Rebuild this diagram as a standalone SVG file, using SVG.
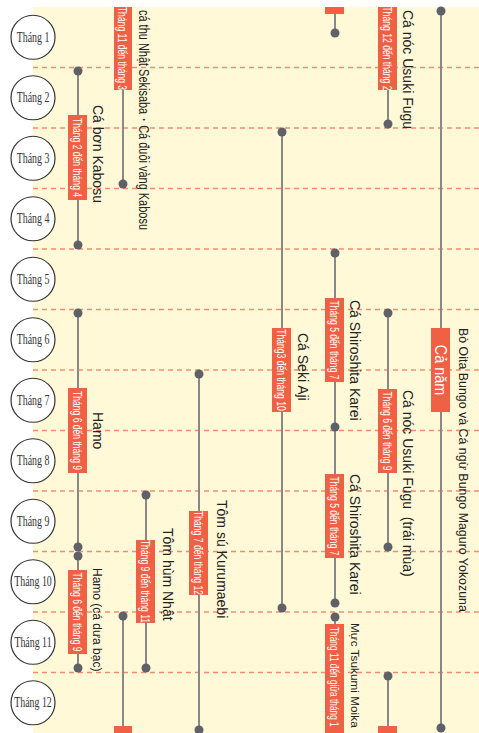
<svg xmlns="http://www.w3.org/2000/svg" width="479" height="733" viewBox="0 0 479 733">
<style>
.bg{fill:#FFF9D7}
.grid{stroke:#F58C72;stroke-width:1.3;stroke-dasharray:5 4;fill:none}
.mc{fill:#fff;stroke:#333;stroke-width:1.2}
.mt{font-family:"Liberation Serif",serif;font-size:15px;fill:#333;text-anchor:middle;dominant-baseline:central}
.ln{stroke:#888;stroke-width:2;fill:none}
.dot{fill:#5f6068}
.box{fill:#EF6044}
.lb{font-family:"Liberation Sans",Arial,sans-serif;font-size:13px;fill:#fff;text-anchor:middle;dominant-baseline:central}
.lbs{font-family:"Liberation Sans",Arial,sans-serif;font-size:13px;fill:#fff;text-anchor:start;dominant-baseline:central}
.nm{font-family:"Liberation Sans",Arial,sans-serif;font-size:14px;fill:#222;text-anchor:start;dominant-baseline:central}
</style>
<rect class="bg" x="33" y="7" width="446" height="726"/>
<g id="grid">
<line class="grid" x1="33" y1="67.5" x2="479" y2="67.5"/>
<line class="grid" x1="33" y1="128" x2="479" y2="128"/>
<line class="grid" x1="33" y1="188.5" x2="479" y2="188.5"/>
<line class="grid" x1="33" y1="249" x2="479" y2="249"/>
<line class="grid" x1="33" y1="309.5" x2="479" y2="309.5"/>
<line class="grid" x1="33" y1="370" x2="479" y2="370"/>
<line class="grid" x1="33" y1="430.5" x2="479" y2="430.5"/>
<line class="grid" x1="33" y1="491" x2="479" y2="491"/>
<line class="grid" x1="33" y1="551.5" x2="479" y2="551.5"/>
<line class="grid" x1="33" y1="612" x2="479" y2="612"/>
<line class="grid" x1="33" y1="672.5" x2="479" y2="672.5"/>
</g>
<g id="months">
<g id="m1"><circle class="mc" cx="33" cy="37.25" r="22"/><text class="mt" transform="translate(33,37.25) scale(0.66,1)">Tháng 1</text></g>
<g id="m2"><circle class="mc" cx="33" cy="97.75" r="22"/><text class="mt" transform="translate(33,97.75) scale(0.66,1)">Tháng 2</text></g>
<g id="m3"><circle class="mc" cx="33" cy="158.25" r="22"/><text class="mt" transform="translate(33,158.25) scale(0.66,1)">Tháng 3</text></g>
<g id="m4"><circle class="mc" cx="33" cy="218.75" r="22"/><text class="mt" transform="translate(33,218.75) scale(0.66,1)">Tháng 4</text></g>
<g id="m5"><circle class="mc" cx="33" cy="279.25" r="22"/><text class="mt" transform="translate(33,279.25) scale(0.66,1)">Tháng 5</text></g>
<g id="m6"><circle class="mc" cx="33" cy="339.75" r="22"/><text class="mt" transform="translate(33,339.75) scale(0.66,1)">Tháng 6</text></g>
<g id="m7"><circle class="mc" cx="33" cy="400.25" r="22"/><text class="mt" transform="translate(33,400.25) scale(0.66,1)">Tháng 7</text></g>
<g id="m8"><circle class="mc" cx="33" cy="460.75" r="22"/><text class="mt" transform="translate(33,460.75) scale(0.66,1)">Tháng 8</text></g>
<g id="m9"><circle class="mc" cx="33" cy="521.25" r="22"/><text class="mt" transform="translate(33,521.25) scale(0.66,1)">Tháng 9</text></g>
<g id="m10"><circle class="mc" cx="33" cy="581.75" r="22"/><text class="mt" transform="translate(33,581.75) scale(0.66,1)">Tháng 10</text></g>
<g id="m11"><circle class="mc" cx="33" cy="642.25" r="22"/><text class="mt" transform="translate(33,642.25) scale(0.66,1)">Tháng 11</text></g>
<g id="m12"><circle class="mc" cx="33" cy="702.75" r="22"/><text class="mt" transform="translate(33,702.75) scale(0.66,1)">Tháng 12</text></g>
</g>
<g id="connectors">
<line class="ln" x1="78" y1="71" x2="78" y2="245"/>
<line class="ln" x1="123" y1="7" x2="123" y2="184"/>
<line class="ln" x1="123" y1="616" x2="123" y2="733"/>
<line class="ln" x1="78" y1="313" x2="78" y2="547"/>
<line class="ln" x1="78" y1="556" x2="78" y2="668"/>
<line class="ln" x1="146" y1="495" x2="146" y2="668"/>
<line class="ln" x1="199" y1="374" x2="199" y2="730"/>
<line class="ln" x1="282" y1="132" x2="282" y2="608"/>
<line class="ln" x1="335" y1="7" x2="335" y2="33"/>
<line class="ln" x1="335" y1="253" x2="335" y2="603"/>
<line class="ln" x1="335" y1="617" x2="335" y2="733"/>
<line class="ln" x1="388" y1="7" x2="388" y2="124"/>
<line class="ln" x1="388" y1="313" x2="388" y2="547"/>
<line class="ln" x1="388" y1="676" x2="388" y2="733"/>
<line class="ln" x1="441" y1="11" x2="441" y2="728"/>
</g>
<g id="kabosu-flounder">
<circle class="dot" cx="78" cy="71" r="4.5"/><circle class="dot" cx="78" cy="245" r="4.5"/>
<rect class="box" x="68" y="115" width="19" height="85"/>
<text class="lb" transform="translate(77.5,157.5) rotate(90) scale(0.66,1)">Tháng 2 đến tháng 4</text>
<text class="nm" transform="translate(98,105) rotate(90)">Cá bơn Kabosu</text>
</g>
<g id="sekisaba">
<circle class="dot" cx="123" cy="184" r="4.5"/><circle class="dot" cx="123" cy="616" r="4.5"/>
<rect class="box" x="114" y="7" width="18" height="83"/>
<rect class="box" x="114" y="726" width="18" height="7"/>
<text class="lb" transform="translate(123,48.5) rotate(90) scale(0.66,1)">Tháng 11 đến tháng 3</text>
<text class="nm" transform="translate(144,10) rotate(90)" textLength="220" lengthAdjust="spacingAndGlyphs">cá thu Nhật Sekisaba・Cá đuôi vàng Kabosu</text>
</g>
<g id="hamo">
<circle class="dot" cx="78" cy="313" r="4.5"/><circle class="dot" cx="78" cy="547" r="4.5"/>
<rect class="box" x="68" y="388" width="19" height="85"/>
<text class="lb" transform="translate(77.5,430.5) rotate(90) scale(0.66,1)">Tháng 6 đến tháng 9</text>
<text class="nm" transform="translate(98,412) rotate(90)">Hamo</text>
</g>
<g id="hamo-silver">
<circle class="dot" cx="78" cy="556" r="4.5"/><circle class="dot" cx="78" cy="668" r="4.5"/>
<rect class="box" x="68" y="570" width="19" height="84"/>
<text class="lb" transform="translate(77.5,612) rotate(90) scale(0.66,1)">Tháng 6 đến tháng 9</text>
<text class="nm" style="font-size:12px" transform="translate(97,568) rotate(90)">Hamo (cá dưa bạc)</text>
</g>
<g id="lobster">
<circle class="dot" cx="146" cy="495" r="4.5"/><circle class="dot" cx="146" cy="668" r="4.5"/>
<rect class="box" x="136" y="540" width="19" height="83"/>
<text class="lb" transform="translate(145.5,581.5) rotate(90) scale(0.66,1)">Tháng 9 đến tháng 11</text>
<text class="nm" transform="translate(168,528) rotate(90)">Tôm hùm Nhật</text>
</g>
<g id="kurumaebi">
<circle class="dot" cx="199" cy="374" r="4.5"/><circle class="dot" cx="199" cy="730" r="4.5"/>
<rect class="box" x="189" y="511" width="19" height="84"/>
<text class="lb" transform="translate(198.5,553) rotate(90) scale(0.66,1)">Tháng 7 đến tháng 12</text>
<text class="nm" transform="translate(222,500) rotate(90)">Tôm sú Kurumaebi</text>
</g>
<g id="seki-aji">
<circle class="dot" cx="282" cy="132" r="4.5"/><circle class="dot" cx="282" cy="608" r="4.5"/>
<rect class="box" x="272" y="328" width="19" height="84"/>
<text class="lb" transform="translate(281.5,370) rotate(90) scale(0.66,1)">Tháng3 đến tháng 10</text>
<text class="nm" transform="translate(303,333) rotate(90)">Cá Seki Aji</text>
</g>
<g id="shiroshita">
<circle class="dot" cx="335" cy="253" r="4.5"/><circle class="dot" cx="335" cy="427" r="4.5"/><circle class="dot" cx="335" cy="603" r="4.5"/>
<rect class="box" x="325" y="298" width="19" height="84"/>
<text class="lb" transform="translate(334.5,340) rotate(90) scale(0.66,1)">Tháng 5 đến tháng 7</text>
<text class="nm" transform="translate(355,300) rotate(90)">Cá Shiroshita Karei</text>
<rect class="box" x="325" y="474" width="19" height="84"/>
<text class="lb" transform="translate(334.5,516) rotate(90) scale(0.66,1)">Tháng 5 đến tháng 7</text>
<text class="nm" transform="translate(355,474) rotate(90)">Cá Shiroshita Karei</text>
</g>
<g id="moika">
<rect class="box" x="325" y="7" width="19" height="7"/>
<circle class="dot" cx="335" cy="33" r="4.5"/><circle class="dot" cx="335" cy="617" r="4.5"/>
<rect class="box" x="325" y="624" width="19" height="109"/>
<text class="lbs" transform="translate(334.5,627) rotate(90) scale(0.64,1)">Tháng 11 đến giữa tháng 1</text>
<text class="nm" style="font-size:11.8px" transform="translate(355,623) rotate(90)">Mực Tsukumi Moika</text>
</g>
<g id="fugu">
<circle class="dot" cx="388" cy="124" r="4.5"/>
<rect class="box" x="378" y="7" width="19" height="83"/>
<text class="lb" transform="translate(387.5,48.5) rotate(90) scale(0.66,1)">Tháng 12 đến tháng 2</text>
<text class="nm" transform="translate(408,10) rotate(90)">Cá nóc Usuki Fugu</text>
<circle class="dot" cx="388" cy="676" r="4.5"/>
<rect class="box" x="378" y="726" width="19" height="7"/>
</g>
<g id="fugu-offseason">
<circle class="dot" cx="388" cy="313" r="4.5"/><circle class="dot" cx="388" cy="547" r="4.5"/>
<rect class="box" x="378" y="389" width="19" height="84"/>
<text class="lb" transform="translate(387.5,431) rotate(90) scale(0.66,1)">Tháng 6 đến tháng 9</text>
<text class="nm" transform="translate(408,390) rotate(90)" xml:space="preserve">Cá nóc Usuki Fugu  (trái mùa)</text>
</g>
<g id="bungo">
<circle class="dot" cx="441" cy="11" r="4.5"/><circle class="dot" cx="441" cy="728" r="4.5"/>
<rect class="box" x="431" y="328" width="19" height="84"/>
<text class="lb" style="font-size:16px" transform="translate(440.5,370) rotate(90) scale(0.9,1)">Cả năm</text>
<text class="nm" style="font-size:12.4px" transform="translate(463,328) rotate(90)">Bò Oita Bungo và Cá ngừ Bungo Maguro Yokozuna</text>
</g>
</svg>
